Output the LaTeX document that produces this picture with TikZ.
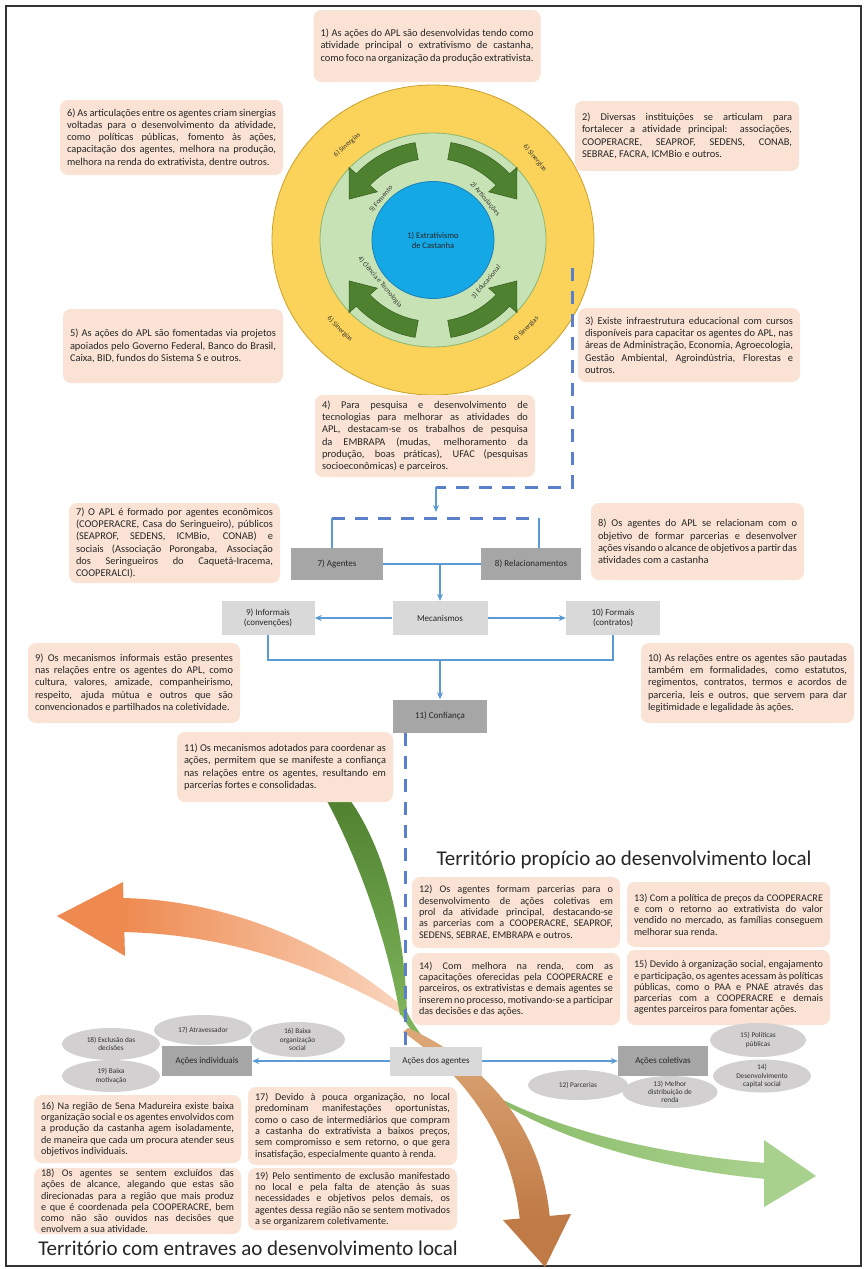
\documentclass[tikz,border=0pt]{standalone}
\usepackage{fontspec}
\setmainfont{Carlito}
\newfontfamily\bx{Carlito}
\usetikzlibrary{arrows.meta,shapes.geometric}
\definecolor{peach}{HTML}{FAE3D5}
\definecolor{lgrey}{HTML}{D9D9D9}
\definecolor{dgrey}{HTML}{A6A6A6}
\definecolor{ellgrey}{HTML}{D2D0D0}
\definecolor{lblue}{HTML}{5B9BD5}
\definecolor{dblue}{HTML}{5A7FCB}
\definecolor{yel}{HTML}{FCD35A}
\definecolor{yeld}{HTML}{C9A02A}
\definecolor{lgreen}{HTML}{C7E2B5}
\definecolor{lgreend}{HTML}{8DB56D}
\definecolor{cyanb}{HTML}{14A8E6}
\definecolor{cyand}{HTML}{1C7FB5}
\definecolor{dgreen}{HTML}{4F8230}
\definecolor{dgreend}{HTML}{3A6322}
\definecolor{grnD}{HTML}{4E7F2E}
\definecolor{grnM}{HTML}{7DB45A}
\definecolor{grnL}{HTML}{A9D18E}
\definecolor{orgD}{HTML}{EE8A50}
\definecolor{orgL}{HTML}{F9D5BD}
\definecolor{brnD}{HTML}{C07A45}
\definecolor{brnL}{HTML}{DDA878}
\newcommand\mybxfont{\bx\fontsize{10.4}{12.3}\selectfont\hyphenpenalty=10000 \exhyphenpenalty=10000 \tolerance=9999 \emergencystretch=2em\relax}
\newcommand\mybxfontT{\bx\fontsize{10.2}{11.3}\selectfont\hyphenpenalty=10000 \exhyphenpenalty=10000 \tolerance=9999 \emergencystretch=2em\relax}
\tikzset{
  pbox/.style={fill=peach, rounded corners=8pt, inner xsep=7pt, inner ysep=1pt, align=justify, text=black!85, font=\mybxfont},
  pb/.style 2 args={pbox, text width=#1, minimum height=#2},
  pbt/.style 2 args={pbox, font=\mybxfontT, text width=#1, minimum height=#2},
  dg/.style={fill=dgrey, align=center, inner sep=1pt, text=black!85, font=\bx\fontsize{9}{10.5}\selectfont},
  lg/.style={fill=lgrey, align=center, inner sep=1pt, text=black!85, font=\bx\fontsize{9}{10.5}\selectfont},
  ell/.style={ellipse, fill=ellgrey, inner sep=0pt, align=center, text=black!80, font=\bx\fontsize{7.3}{8.3}\selectfont},
  ringlbl/.style={font=\bx\fontsize{7}{8}\selectfont, text=black!80, inner sep=0pt},
  bl/.style={draw=lblue, line width=1.6pt},
  bla/.style={draw=lblue, line width=1.6pt, -{Stealth[length=7pt,width=6pt]}},
  dsh/.style={draw=dblue, line width=3pt, dash pattern=on 13pt off 10pt},
  ttl/.style={font=\bx\fontsize{21}{24}\selectfont, text=black!85, inner sep=0pt}
}
\newcommand\ringarrow[3]{%
  \fill[dgreen, draw=dgreend, line width=0.6pt] (#1:85) arc[start angle=#1, end angle=#2, radius=85] -- (#2:75) -- (#3:94) -- (#2:113) -- (#2:103) arc[start angle=#2, end angle=#1, radius=103] -- cycle;}
\begin{document}
\begin{tikzpicture}[x=1pt, y=-1pt]
\useasboundingbox (0,0) rectangle (867,1269);
\fill[white] (0,0) rectangle (867,1269);
\draw[line width=1.6pt, black!80] (6,6) rectangle (861,1266);

% ---------- big curved arrows (background) ----------
\shade[left color=orgD, right color=orgL] (122,898) .. controls (230,900) and (330,945) .. (402,1006) -- (400,1013) .. controls (320,968) and (230,934) .. (122,932) -- cycle;
\fill[orgD] (123,882) -- (57,916) -- (125,956) -- cycle;
\shade[top color=grnD, bottom color=grnM] (322,792) .. controls (352,845) and (386,932) .. (400,1015) -- (407,1015) .. controls (405,932) and (386,845) .. (344,792) -- cycle;
\shade[left color=grnM, right color=grnL] (401,1014) .. controls (437,1082) and (560,1146) .. (766,1163) -- (766,1179) .. controls (560,1160) and (442,1082) .. (407,1012) -- cycle;
\fill[grnL] (764,1140) -- (816,1176) -- (764,1207) -- cycle;
\shade[top color=brnL, bottom color=brnD] (403,1032) .. controls (455,1068) and (512,1130) .. (520,1222) -- (550,1220) .. controls (542,1118) and (475,1058) .. (408,1028) -- cycle;
\fill[brnD] (503,1220) -- (545,1267) -- (571,1214) -- cycle;

% ---------- circle diagram ----------
\node[ellipse, fill=yel, draw=yeld, line width=0.8pt, minimum width=322pt, minimum height=310pt] (ring3) at (433,240) {};
\node[ellipse, fill=lgreen, draw=lgreend, line width=0.8pt, minimum width=226pt, minimum height=214pt] (ring2) at (433,240) {};
\begin{scope}[shift={(433,240)}, yscale=-0.96]
  \ringarrow{80}{42}{27}
  \ringarrow{100}{138}{153}
  \ringarrow{-80}{-42}{-27}
  \ringarrow{260}{222}{207}
\end{scope}
\node[ellipse, fill=cyanb, draw=cyand, line width=0.8pt, minimum width=122pt, minimum height=117pt, align=center, font=\bx\fontsize{8.5}{10}\selectfont, text=black!85] (core) at (433,240) {1) Extrativismo\\de Castanha};

\node[ringlbl, rotate=50] (l5) at (381,199) {5) Fomento};
\node[ringlbl, rotate=-50] (l2) at (485,199) {2) Articulações};
\node[ringlbl, rotate=50] (l3) at (486,282) {3) Educacional};
\node[ringlbl, rotate=-50] (l4) at (380,282) {4) Ciência e Tecnologia};
\node[ringlbl, rotate=41] (s1) at (347,145) {6) Sinergias};
\node[ringlbl, rotate=-50] (s2) at (535,158) {6) Sinergias};
\node[ringlbl, rotate=45] (s3) at (526,329) {6) Sinergias};
\node[ringlbl, rotate=-45] (s4) at (340,329) {6) Sinergias};

% ---------- top text boxes ----------
\node[pb={213pt}{72pt}] (b1) at (427,46) {1) As ações do APL são desenvolvidas tendo como atividade principal o extrativismo de castanha, como foco na organização da produção extrativista.};
\node[pb={209pt}{75pt}] (b6) at (171.5,137.5) {6) As articulações entre os agentes criam sinergias voltadas para o desenvolvimento da atividade, como políticas públicas, fomento às ações, capacitação dos agentes, melhora na produção, melhora na renda do extrativista, dentre outros.};
\node[pb={210pt}{70pt}] (b2) at (687,136) {2) Diversas instituições se articulam para fortalecer a atividade principal: associações, COOPERACRE, SEAPROF, SEDENS, CONAB, SEBRAE, FACRA, ICMBio e outros.};
\node[pb={206pt}{74pt}] (b5) at (173,346) {5) As ações do APL são fomentadas via projetos apoiados pelo Governo Federal, Banco do Brasil, Caixa, BID, fundos do Sistema S e outros.};
\node[pb={208pt}{74pt}] (b3) at (689,345) {3) Existe infraestrutura educacional com cursos disponíveis para capacitar os agentes do APL, nas áreas de Administração, Economia, Agroecologia, Gestão Ambiental, Agroindústria, Florestas e outros.};
\node[pb={206pt}{82pt}] (b4) at (425,436) {4) Para pesquisa e desenvolvimento de tecnologias para melhorar as atividades do APL, destacam-se os trabalhos de pesquisa da EMBRAPA (mudas, melhoramento da produção, boas práticas), UFAC (pesquisas socioeconômicas) e parceiros.};

% ---------- dashed link from circle ----------
\coordinate (d0) at (572,268);
\coordinate (d1) at (572,487);
\coordinate (d2) at (436,487);
\coordinate (d3) at (436,512);
\draw[dsh] (d0) -- (d1) -- (d2);
\draw[bla] (d2) -- (d3);

% ---------- mechanism structure ----------
\node[pb={197pt}{80pt}] (b7) at (174.5,543) {7) O APL é formado por agentes econômicos (COOPERACRE, Casa do Seringueiro), públicos (SEAPROF, SEDENS, ICMBio, CONAB) e sociais (Associação Porongaba, Associação dos Seringueiros do Caquetá-Iracema, COOPERALCI).};
\node[pb={199pt}{77pt}] (b8) at (697.5,541.5) {8) Os agentes do APL se relacionam com o objetivo de formar parcerias e desenvolver ações visando o alcance de objetivos a partir das atividades com a castanha};

\node[dg, minimum width=92pt, minimum height=32pt] (agentes) at (337,564) {7) Agentes};
\node[dg, minimum width=100pt, minimum height=32pt] (relac) at (531,564) {8) Relacionamentos};
\node[lg, minimum width=95pt, minimum height=34pt] (mecan) at (440,618) {Mecanismos};
\node[lg, minimum width=93pt, minimum height=34pt] (inform) at (268,618) {9) Informais\\(convenções)};
\node[lg, minimum width=94pt, minimum height=34pt] (formais) at (613,618) {10) Formais\\(contratos)};
\node[dg, minimum width=94pt, minimum height=33pt] (confianca) at (440,716) {11) Confiança};

\coordinate (e0) at (332,518);
\coordinate (e1) at (539,518);
\draw[dsh] (e0) -- (e1);
\draw[bl] (e0) -- (agentes.north -| e0);
\draw[bl] (e1) -- (relac.north -| e1);
\draw[draw=lblue, line width=2.6pt] (agentes.east) -- (relac.west);
\coordinate (m1) at (440,564);
\draw[bla] (m1) -- (mecan.north);
\draw[bla] (mecan.west) -- (inform.east);
\draw[bla] (mecan.east) -- (formais.west);
\coordinate (jl) at (268,660);
\coordinate (jr) at (613,660);
\coordinate (jm) at (440,660);
\draw[bl] (inform.south) -- (jl) -- (jr) -- (formais.south);
\draw[bla] (jm) -- (confianca.north);

\node[pb={198pt}{80pt}] (b9) at (134,683) {9) Os mecanismos informais estão presentes nas relações entre os agentes do APL, como cultura, valores, amizade, companheirismo, respeito, ajuda mútua e outros que são convencionados e partilhados na coletividade.};
\node[pb={199pt}{80pt}] (b10) at (747.5,683) {10) As relações entre os agentes são pautadas também em formalidades, como estatutos, regimentos, contratos, termos e acordos de parceria, leis e outros, que servem para dar legitimidade e legalidade às ações.};
\node[pb={202pt}{70pt}] (b11) at (285,767) {11) Os mecanismos adotados para coordenar as ações, permitem que se manifeste a confiança nas relações entre os agentes, resultando em parcerias fortes e consolidadas.};

% ---------- territories ----------
\node[ttl] (t1) at (624,860) {Território propício ao desenvolvimento local};
\node[pbt={194pt}{71pt}] (b12) at (516,912.5) {12) Os agentes formam parcerias para o desenvolvimento de ações coletivas em prol da atividade principal, destacando-se as parcerias com a COOPERACRE, SEAPROF, SEDENS, SEBRAE, EMBRAPA e outros.};
\node[pbt={189pt}{65pt}] (b13) at (728.5,914.5) {13) Com a política de preços da COOPERACRE e com o retorno ao extrativista do valor vendido no mercado, as famílias conseguem melhorar sua renda.};
\node[pbt={194pt}{72pt}] (b14) at (516,989) {14) Com melhora na renda, com as capacitações oferecidas pela COOPERACRE e parceiros, os extrativistas e demais agentes se inserem no processo, motivando-se a participar das decisões e das ações.};
\node[pbt={189pt}{75pt}] (b15) at (728.5,987.5) {15) Devido à organização social, engajamento e participação, os agentes acessam às políticas públicas, como o PAA e PNAE através das parcerias com a COOPERACRE e demais agentes parceiros para fomentar ações.};

\coordinate (f0) at (405,1046);
\draw[dsh] (confianca.south -| f0) -- (f0);

\node[ell, minimum width=98pt, minimum height=32pt] (e18) at (111,1044) {18) Exclusão das\\decisões};
\node[ell, minimum width=98pt, minimum height=30pt] (e17) at (203,1030) {17) Atravessador};
\node[ell, minimum width=95pt, minimum height=35pt] (e16) at (297.5,1039.5) {16) Baixa\\organização\\social};
\node[ell, minimum width=98pt, minimum height=32pt] (e19) at (111,1076) {19) Baixa\\motivação};
\node[ell, minimum width=96pt, minimum height=34pt] (e15) at (758,1040) {15) Políticas\\públicas};
\node[ell, minimum width=98pt, minimum height=33pt] (e14) at (762,1076) {14)\\Desenvolvimento\\capital social};
\node[ell, minimum width=95pt, minimum height=32pt] (e13) at (670,1092) {13) Melhor\\distribuição de\\renda};
\node[ell, minimum width=100pt, minimum height=30pt] (e12) at (578,1085) {12) Parcerias};

\node[lg, minimum width=92pt, minimum height=29pt] (acoesag) at (436,1061) {Ações dos agentes};
\node[dg, minimum width=90pt, minimum height=30pt] (acoesind) at (207,1061) {Ações individuais};
\node[dg, minimum width=90pt, minimum height=30pt] (acoescol) at (663,1061) {Ações coletivas};
\draw[bla] (acoesag.west) -- (acoesind.east);
\draw[bla] (acoesag.east) -- (acoescol.west);

\node[pbt={193pt}{68pt}] (b16) at (137.5,1129) {16) Na região de Sena Madureira existe baixa organização social e os agentes envolvidos com a produção da castanha agem isoladamente, de maneira que cada um procura atender seus objetivos individuais.};
\node[pbt={195pt}{78pt}] (b17) at (352.5,1126) {17) Devido à pouca organização, no local predominam manifestações oportunistas, como o caso de intermediários que compram a castanha do extrativista a baixos preços, sem compromisso e sem retorno, o que gera insatisfação, especialmente quanto à renda.};
\node[pbt={193pt}{66pt}] (b18) at (137.5,1201) {18) Os agentes se sentem excluídos das ações de alcance, alegando que estas são direcionadas para a região que mais produz e que é coordenada pela COOPERACRE, bem como não são ouvidos nas decisões que envolvem a sua atividade.};
\node[pbt={195pt}{62pt}] (b19) at (352.5,1199) {19) Pelo sentimento de exclusão manifestado no local e pela falta de atenção às suas necessidades e objetivos pelos demais, os agentes dessa região não se sentem motivados a se organizarem coletivamente.};
\node[ttl] (t2) at (248,1248) {Território com entraves ao desenvolvimento local};
\end{tikzpicture}
\end{document}
